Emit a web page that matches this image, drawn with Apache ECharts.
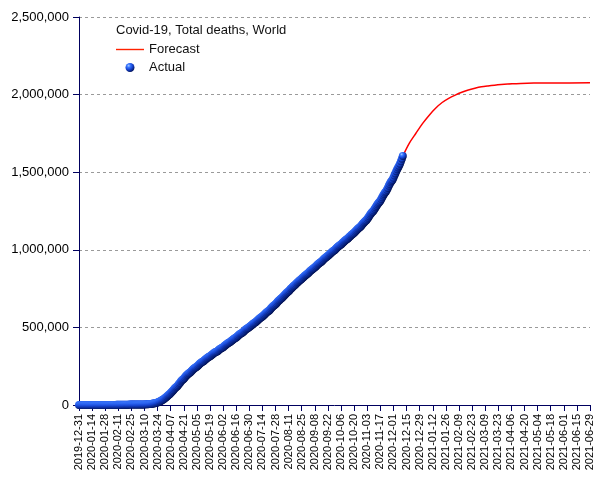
<!DOCTYPE html>
<html>
<head>
<meta charset="utf-8">
<script src="https://cdn.jsdelivr.net/npm/echarts@6/dist/echarts.min.js"></script>
<style>
html,body{margin:0;padding:0;background:#fff;}
#chart{width:605px;height:480px;}
</style>
</head>
<body>
<div id="chart"></div>
<script>
// ---- Data ----
const chartTitle = 'Covid-19, Total deaths, World';
const seriesNames = ['Forecast', 'Actual'];
const axisStartDate = '2019-12-31';
const axisEndDate = '2021-06-29';
const tickStepDays = 14;
const yTicks = [0, 500000, 1000000, 1500000, 2000000, 2500000];

// Actual cumulative deaths, one value per day starting 2019-12-31
const deathsDec2019 = [0];
const deathsJan2020 = [0,0,0,0,0,0,0,0,0,0,1,1,1,1,1,1,2,2,3,3,6,9,17,25,41,56,80,106,132,170,213];
const deathsFeb2020 = [259,305,362,426,492,565,638,724,813,910,1018,1115,1369,1383,1526,1669,1775,1873,2009,2126,2247,2360,2460,2618,2699,2763,2800,2858,2923];
const deathsMar2020 = [2977,3050,3117,3202,3285,3387,3494,3599,3827,4025,4296,4628,4981,5429,5833,6536,7164,7984,8964,10185,11609,13150,14802,16732,19203,21804,24893,28460,31811,35401,39561];
const deathsApr2020 = [44400,49500,55300,61300,66300,71100,76800,83900,90500,97300,104500,110800,116100,121600,128900,136700,143900,152800,159400,164800,169900,177300,184500,191000,197300,203000,206500,211000,217500,224300];
const deathsMay2020 = [230100,235700,240300,244000,247700,253600,259700,265200,270700,275200,278900,282500,287900,293100,298500,303400,307400,310800,314300,319100,324000,329100,334000,338100,341100,342900,347000,352200,357100,361900,366100];
const deathsJun2020 = [369500,372800,377900,383200,388400,393300,397500,400800,404400,409300,414200,419000,423700,427700,431000,434800,441500,446700,452100,456800,460900,464300,468300,473600,480200,485700,490300,494700,498200,501800];
const deathsJul2020 = [507000,512300,517700,522800,527000,530800,535000,541000,546800,552300,557600,562300,566400,570800,576700,582300,588000,593700,598900,603300,607800,614400,621400,627800,634200,639800,644100,649300,656000,663000,669400];
const deathsAug2020 = [675600,681300,685900,690900,697700,704500,711000,717500,723200,727800,733300,740000,746700,753000,759200,764900,769400,774300,780700,787300,793200,798800,804100,808300,813000,819300,825300,830900,836400,841400,845600];
const deathsSep2020 = [850300,856400,862600,868300,873700,878500,882500,886800,892900,899000,904700,910300,915000,919100,923700,930000,936200,941900,947400,952300,956600,960900,966900,973000,978500,984000,989000,993100,997400,1003500];
const deathsOct2020 = [1009700,1015700,1021500,1026600,1030600,1034700,1040700,1046800,1052600,1058300,1063200,1067200,1071500,1077600,1083700,1089700,1095600,1100600,1104700,1109200,1115900,1122500,1129100,1135500,1140700,1145000,1150700,1158300,1165600,1172800,1179700];
const deathsNov2020 = [1185300,1190300,1197700,1207000,1216300,1225300,1234100,1241500,1247200,1254600,1264800,1274500,1284100,1293400,1301500,1308000,1316300,1327300,1338300,1349500,1360300,1369300,1376400,1386500,1399000,1412200,1423700,1434600,1443700,1451600];
const deathsDec2020 = [1464000,1478000,1492000,1506000,1519000,1531000,1542000,1555000,1570000,1587000,1605000];

// Forecast curve (dates and values)
const forecastDates = ['2020-12-11','2020-12-18','2020-12-25','2021-01-01','2021-01-08','2021-01-15','2021-01-22','2021-01-29','2021-02-05','2021-02-12','2021-02-19','2021-02-26','2021-03-05','2021-03-12','2021-03-19','2021-03-26','2021-04-02','2021-04-09','2021-04-16','2021-04-30','2021-05-21','2021-06-29'];
const forecastDeaths = [1605000,1688000,1751000,1813000,1866000,1912000,1949000,1976000,1997000,2015000,2030000,2041000,2050000,2056000,2061000,2065000,2068000,2070000,2072000,2074000,2075000,2076000];

// ---- Helpers ----
const DAY = 86400000;
function toUTC(s){ const p = s.split('-').map(Number); return Date.UTC(p[0], p[1]-1, p[2]); }
const t0 = toUTC(axisStartDate);
function dayIndex(s){ return Math.round((toUTC(s) - t0) / DAY); }
function dayLabel(d){
  const dt = new Date(t0 + d * DAY);
  const m = String(dt.getUTCMonth()+1).padStart(2,'0');
  const dd = String(dt.getUTCDate()).padStart(2,'0');
  return dt.getUTCFullYear() + '-' + m + '-' + dd;
}
function fmtNum(v){ return String(v).replace(/\B(?=(\d{3})+(?!\d))/g, ','); }

const actualDeaths = [].concat(deathsDec2019, deathsJan2020, deathsFeb2020, deathsMar2020, deathsApr2020,
  deathsMay2020, deathsJun2020, deathsJul2020, deathsAug2020, deathsSep2020, deathsOct2020, deathsNov2020, deathsDec2020);
const actualData = actualDeaths.map((v, i) => [i, v]);
const forecastData = forecastDates.map((d, i) => [dayIndex(d), forecastDeaths[i]]);

const sphere = {
  type: 'radial', x: 0.35, y: 0.3, r: 0.75,
  colorStops: [
    { offset: 0, color: '#a8ccff' },
    { offset: 0.25, color: '#3a78ff' },
    { offset: 0.55, color: '#1848d8' },
    { offset: 0.8, color: '#0a2890' },
    { offset: 1, color: '#000f50' }
  ]
};

const chart = echarts.init(document.getElementById('chart'), null, { renderer: 'canvas' });
const FONT = 'Liberation Sans, Arial, sans-serif';
const AXIS_COLOR = '#00005e';

chart.setOption({
  animation: false,
  backgroundColor: '#ffffff',
  title: {
    text: chartTitle,
    left: 116, top: 24, padding: 0,
    textStyle: { fontFamily: FONT, fontSize: 13, fontWeight: 'normal', color: '#111' }
  },
  legend: {
    orient: 'vertical',
    left: 116, top: 43, padding: 0,
    itemWidth: 28, itemHeight: 9, itemGap: 5,
    textStyle: { fontFamily: FONT, fontSize: 13, color: '#111' },
    data: [
      { name: seriesNames[0], icon: 'path://M0,0 L30,0 L30,1.5 L0,1.5 Z', itemStyle: { color: '#ff2200' } },
      { name: seriesNames[1] }
    ]
  },
  grid: { left: 79, right: 15, top: 17, bottom: 75, containLabel: false },
  xAxis: {
    type: 'value',
    min: 0,
    max: dayIndex(axisEndDate),
    interval: tickStepDays,
    axisLine: { show: true, onZero: false, lineStyle: { color: AXIS_COLOR, width: 1 } },
    axisTick: { show: true, inside: false, length: 6, lineStyle: { color: AXIS_COLOR } },
    splitLine: { show: false },
    axisLabel: {
      rotate: 90, margin: 9, fontFamily: FONT, fontSize: 11, color: '#000',
      showMinLabel: true, showMaxLabel: true,
      formatter: v => dayLabel(v)
    }
  },
  yAxis: {
    type: 'value',
    min: yTicks[0], max: yTicks[yTicks.length-1],
    interval: yTicks[1] - yTicks[0],
    axisLine: { show: true, lineStyle: { color: AXIS_COLOR, width: 1 } },
    axisTick: { show: true, inside: false, length: 6, lineStyle: { color: AXIS_COLOR } },
    splitLine: { show: true, lineStyle: { color: '#9a9a9a', width: 1, type: [3, 3] } },
    axisLabel: { margin: 10, fontFamily: FONT, fontSize: 13, color: '#000', formatter: v => fmtNum(v) }
  },
  series: [
    {
      name: seriesNames[0],
      type: 'line',
      data: forecastData,
      symbol: 'none',
      smooth: 0.3,
      clip: false,
      lineStyle: { color: '#ff0000', width: 1.5 },
      itemStyle: { color: '#ff2a00' },
      z: 3
    },
    {
      name: seriesNames[1],
      type: 'scatter',
      data: actualData,
      symbol: 'circle',
      symbolSize: 8,
      clip: false,
      itemStyle: { color: sphere, opacity: 1 },
      z: 4
    }
  ]
});
</script>
</body>
</html>
